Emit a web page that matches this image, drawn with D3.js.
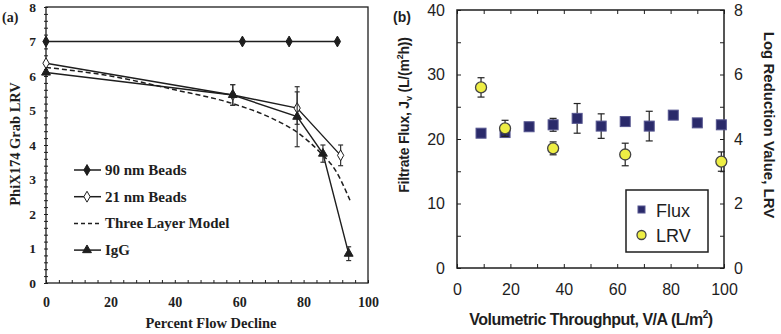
<!DOCTYPE html>
<html>
<head>
<meta charset="utf-8">
<script src="https://cdn.jsdelivr.net/npm/d3@7"></script>
<style>
  body { margin: 0; background: #fff; }
  svg { display: block; }
</style>
</head>
<body>
<div id="chart"></div>
<script>
/* Panel (a) data */
const beads90X = [0, 61, 75.5, 90.5];
const beads90Y = [7, 7, 7, 7];
const beads21X = [0, 58, 78, 91.5];
const beads21Y = [6.37, 5.45, 5.07, 3.7];
const beads21Err = [0, 0.3, 0.47, 0.3];
const iggX = [0, 58, 78, 86, 94];
const iggY = [6.1, 5.45, 4.82, 3.75, 0.85];
const iggErr = [0, 0.3, 0.87, 0.25, 0.2];
const modelX = [0, 20, 40, 58, 70, 79, 85, 90, 94.4];
const modelY = [6.25, 6.0, 5.6, 5.2, 4.78, 4.3, 3.8, 3.25, 2.4];
const legendA = ["90 nm Beads", "21 nm Beads", "Three Layer Model", "IgG"];

/* Panel (b) data */
const fluxX = [9, 18, 27, 36, 45, 54, 63, 72, 81, 90, 99];
const fluxY = [20.9, 21.0, 21.9, 22.2, 23.2, 22.0, 22.7, 22.0, 23.7, 22.5, 22.2];
const fluxErr = [0.4, 0.4, 0.5, 1.0, 2.3, 1.9, 0.5, 2.3, 0.6, 0.4, 0.5];
const lrvX = [9, 18, 36, 63, 99];
const lrvY = [5.6, 4.33, 3.71, 3.52, 3.3];
const lrvErr = [0.3, 0.25, 0.2, 0.35, 0.3];
const legendB = ["Flux", "LRV"];

const WIDTH = 781, HEIGHT = 334;
const INK = "#1e1e1e";
const SERIF = "'Liberation Serif', 'DejaVu Serif', serif";
const SANS = "'Liberation Sans', Arial, sans-serif";

const svg = d3.select("#chart").append("svg")
  .attr("width", WIDTH).attr("height", HEIGHT);

const zip = (xs, ys, es) => xs.map((x, i) => ({x: x, y: ys[i], e: es ? es[i] : 0}));
const styleAxis = (g, font, size, weight) => {
  g.select(".domain").remove();
  g.selectAll("line").attr("stroke", INK).attr("stroke-width", 1);
  g.selectAll("text").attr("font-family", font).attr("font-size", size)
   .attr("font-weight", weight).attr("fill", INK);
};

/* ---------- Panel (a) ---------- */
const xa = d3.scaleLinear().domain([0, 100]).range([46, 368]);
const ya = d3.scaleLinear().domain([0, 8]).range([283, 7]);
const pa = svg.append("g");

// minor ticks
pa.append("g").attr("transform", "translate(46,0)")
  .call(d3.axisLeft(ya).tickValues(d3.range(0, 8.01, 0.2)).tickSize(2).tickFormat(""))
  .call(g => styleAxis(g, SERIF, 14, "bold"));
pa.append("g").attr("transform", "translate(46,0)")
  .call(d3.axisRight(ya).tickValues(d3.range(0, 8.01, 0.2)).tickSize(2).tickFormat(""))
  .call(g => styleAxis(g, SERIF, 14, "bold"));
pa.append("g").attr("transform", "translate(0,283)")
  .call(d3.axisTop(xa).tickValues(d3.range(0, 100.1, 4)).tickSize(3).tickFormat(""))
  .call(g => styleAxis(g, SERIF, 14, "bold"));
// labels
pa.append("g").attr("transform", "translate(46,0)")
  .call(d3.axisLeft(ya).ticks(8).tickSize(0).tickPadding(10))
  .call(g => styleAxis(g, SERIF, 13.5, "bold"));
pa.append("g").attr("transform", "translate(0,283)")
  .call(d3.axisBottom(xa).tickValues(d3.range(0, 101, 20)).tickSize(0).tickPadding(14))
  .call(g => styleAxis(g, SERIF, 14, "bold"));

pa.append("rect").attr("x", 46).attr("y", 7).attr("width", 322).attr("height", 276)
  .attr("fill", "none").attr("stroke", INK).attr("stroke-width", 1.3);

const lineA = d3.line().x(d => xa(d.x)).y(d => ya(d.y));

// model curve
pa.append("path").datum(zip(modelX, modelY))
  .attr("d", lineA.curve(d3.curveMonotoneX))
  .attr("fill", "none").attr("stroke", INK).attr("stroke-width", 1.5)
  .attr("stroke-dasharray", "5,3");
lineA.curve(d3.curveLinear);

const seriesA = [
  {pts: zip(beads90X, beads90Y), sym: d3.symbolDiamond, fill: INK},
  {pts: zip(beads21X, beads21Y, beads21Err), sym: d3.symbolDiamond, fill: "#fff"},
  {pts: zip(iggX, iggY, iggErr), sym: d3.symbolTriangle, fill: INK}
];
seriesA.forEach(s => {
  pa.append("path").datum(s.pts).attr("d", lineA)
    .attr("fill", "none").attr("stroke", INK).attr("stroke-width", 1.4);
  s.pts.filter(d => d.e > 0).forEach(d => {
    const g = pa.append("g").attr("stroke", "#333").attr("stroke-width", 1.2);
    g.append("line").attr("x1", xa(d.x)).attr("x2", xa(d.x)).attr("y1", ya(d.y - d.e)).attr("y2", ya(d.y + d.e));
    [d.y - d.e, d.y + d.e].forEach(v => g.append("line")
      .attr("x1", xa(d.x) - 2.5).attr("x2", xa(d.x) + 2.5).attr("y1", ya(v)).attr("y2", ya(v)));
  });
  pa.selectAll(null).data(s.pts).enter().append("path")
    .attr("d", d3.symbol().type(s.sym).size(34))
    .attr("transform", d => `translate(${xa(d.x)},${ya(d.y)})`)
    .attr("fill", s.fill).attr("stroke", INK).attr("stroke-width", 1);
});

// legend (a)
const legA = pa.append("g").attr("font-family", SERIF).attr("font-size", 15)
  .attr("font-weight", "bold").attr("fill", INK);
const legSyms = [
  {sym: d3.symbolDiamond, fill: INK, dash: null},
  {sym: d3.symbolDiamond, fill: "#fff", dash: null},
  {sym: null, fill: null, dash: "4,3"},
  {sym: d3.symbolTriangle, fill: INK, dash: null}
];
legendA.forEach((name, i) => {
  const y = 170 + i * 26.7;
  legA.append("line").attr("x1", 74).attr("x2", 101).attr("y1", y).attr("y2", y)
    .attr("stroke", INK).attr("stroke-width", 1.5).attr("stroke-dasharray", legSyms[i].dash);
  if (legSyms[i].sym) {
    legA.append("path").attr("d", d3.symbol().type(legSyms[i].sym).size(34))
      .attr("transform", `translate(87,${y})`)
      .attr("fill", legSyms[i].fill).attr("stroke", INK);
  }
  legA.append("text").attr("x", 105).attr("y", y + 5).text(name);
});

pa.append("text").attr("x", 211).attr("y", 328).attr("text-anchor", "middle")
  .attr("font-family", SERIF).attr("font-size", 14.5).attr("font-weight", "bold").attr("fill", INK)
  .text("Percent Flow Decline");
pa.append("text").attr("transform", "translate(20,144) rotate(-90)").attr("text-anchor", "middle")
  .attr("font-family", SERIF).attr("font-size", 14.5).attr("font-weight", "bold").attr("fill", INK)
  .text("PhiX174 Grab LRV");
pa.append("text").attr("x", 2).attr("y", 22)
  .attr("font-family", SERIF).attr("font-size", 14).attr("font-weight", "bold").attr("fill", INK)
  .text("(a)");

/* ---------- Panel (b) ---------- */
const xb = d3.scaleLinear().domain([0, 100]).range([457, 724]);
const ybl = d3.scaleLinear().domain([0, 40]).range([268, 10]);
const ybr = d3.scaleLinear().domain([0, 8]).range([268, 10]);
const pb = svg.append("g");

pb.append("g").attr("transform", "translate(0,268)")
  .call(d3.axisTop(xb).tickValues(d3.range(0, 101, 10)).tickSize(4).tickFormat(""))
  .call(g => styleAxis(g, SANS, 16, "normal"));
pb.append("g").attr("transform", "translate(0,10)")
  .call(d3.axisBottom(xb).tickValues(d3.range(0, 101, 10)).tickSize(4).tickFormat(""))
  .call(g => styleAxis(g, SANS, 16, "normal"));
pb.append("g").attr("transform", "translate(0,268)")
  .call(d3.axisBottom(xb).tickValues(d3.range(0, 101, 20)).tickSize(0).tickPadding(16))
  .call(g => styleAxis(g, SANS, 16, "normal"));
pb.append("g").attr("transform", "translate(457,0)")
  .call(d3.axisRight(ybl).tickValues(d3.range(0, 41, 5)).tickSize(4).tickFormat(""))
  .call(g => styleAxis(g, SANS, 16, "normal"));
pb.append("g").attr("transform", "translate(457,0)")
  .call(d3.axisLeft(ybl).tickValues(d3.range(0, 41, 10)).tickSize(0).tickPadding(12))
  .call(g => styleAxis(g, SANS, 16, "normal"));
pb.append("g").attr("transform", "translate(724,0)")
  .call(d3.axisLeft(ybr).tickValues(d3.range(0, 9, 1)).tickSize(4).tickFormat(""))
  .call(g => styleAxis(g, SANS, 16, "normal"));
pb.append("g").attr("transform", "translate(724,0)")
  .call(d3.axisRight(ybr).tickValues(d3.range(0, 9, 2)).tickSize(0).tickPadding(10))
  .call(g => styleAxis(g, SANS, 16, "normal"));

pb.append("rect").attr("x", 457).attr("y", 10).attr("width", 267).attr("height", 258)
  .attr("fill", "none").attr("stroke", INK).attr("stroke-width", 1.5);

const errBars = (g, pts, xs, ys) => pts.forEach(d => {
  const e = g.append("g").attr("stroke", "#222").attr("stroke-width", 1.2);
  e.append("line").attr("x1", xs(d.x)).attr("x2", xs(d.x)).attr("y1", ys(d.y - d.e)).attr("y2", ys(d.y + d.e));
  [d.y - d.e, d.y + d.e].forEach(v => e.append("line")
    .attr("x1", xs(d.x) - 3.5).attr("x2", xs(d.x) + 3.5).attr("y1", ys(v)).attr("y2", ys(v)));
});

const fluxPts = zip(fluxX, fluxY, fluxErr);
const lrvPts = zip(lrvX, lrvY, lrvErr);
errBars(pb, fluxPts, xb, ybl);
pb.selectAll(".sq").data(fluxPts).enter().append("rect").attr("class", "sq")
  .attr("x", d => xb(d.x) - 5).attr("y", d => ybl(d.y) - 5)
  .attr("width", 10).attr("height", 10)
  .attr("fill", "#2a2a6a").attr("stroke", "#55558f").attr("stroke-width", 1);
errBars(pb, lrvPts, xb, ybr);
pb.selectAll(".ci").data(lrvPts).enter().append("circle").attr("class", "ci")
  .attr("cx", d => xb(d.x)).attr("cy", d => ybr(d.y)).attr("r", 5.5)
  .attr("fill", "#eeee44").attr("stroke", "#444").attr("stroke-width", 1.3);

// legend (b)
pb.append("rect").attr("x", 626).attr("y", 190).attr("width", 82).attr("height", 62)
  .attr("fill", "#fff").attr("stroke", INK).attr("stroke-width", 1.5);
pb.append("rect").attr("x", 638).attr("y", 206).attr("width", 7).attr("height", 7)
  .attr("fill", "#2a2a6a").attr("stroke", "#55558f");
pb.append("circle").attr("cx", 641.5).attr("cy", 235).attr("r", 4.5)
  .attr("fill", "#eeee44").attr("stroke", "#444").attr("stroke-width", 1.3);
legendB.forEach((name, i) => {
  pb.append("text").attr("x", 656).attr("y", 217 + i * 25)
    .attr("font-family", SANS).attr("font-size", 18).attr("fill", INK).text(name);
});

const xTitle = pb.append("text").attr("x", 591).attr("y", 325).attr("text-anchor", "middle")
  .attr("font-family", SANS).attr("font-size", 16).attr("font-weight", "bold")
  .attr("letter-spacing", -0.5).attr("fill", INK);
xTitle.append("tspan").text("Volumetric Throughput, V/A (L/m");
xTitle.append("tspan").attr("font-size", 10).attr("dy", -7).text("2");
xTitle.append("tspan").attr("dy", 7).text(")");
const yTitle = pb.append("text").attr("transform", "translate(409,115) rotate(-90)")
  .attr("text-anchor", "middle")
  .attr("font-family", SANS).attr("font-size", 14).attr("font-weight", "bold")
  .attr("letter-spacing", -0.2).attr("fill", INK);
yTitle.append("tspan").text("Filtrate Flux, J");
yTitle.append("tspan").attr("font-size", 9).attr("dy", 3).text("v");
yTitle.append("tspan").attr("dy", -3).text(" (L/(m");
yTitle.append("tspan").attr("font-size", 9).attr("dy", -6).text("2");
yTitle.append("tspan").attr("dy", 6).text("h))");
pb.append("text").attr("transform", "translate(764,125) rotate(90)").attr("text-anchor", "middle")
  .attr("font-family", SANS).attr("font-size", 15).attr("font-weight", "bold").attr("fill", INK)
  .text("Log Reduction Value, LRV");
pb.append("text").attr("x", 393).attr("y", 22)
  .attr("font-family", SANS).attr("font-size", 14).attr("font-weight", "bold").attr("fill", INK)
  .text("(b)");
</script>
</body>
</html>
